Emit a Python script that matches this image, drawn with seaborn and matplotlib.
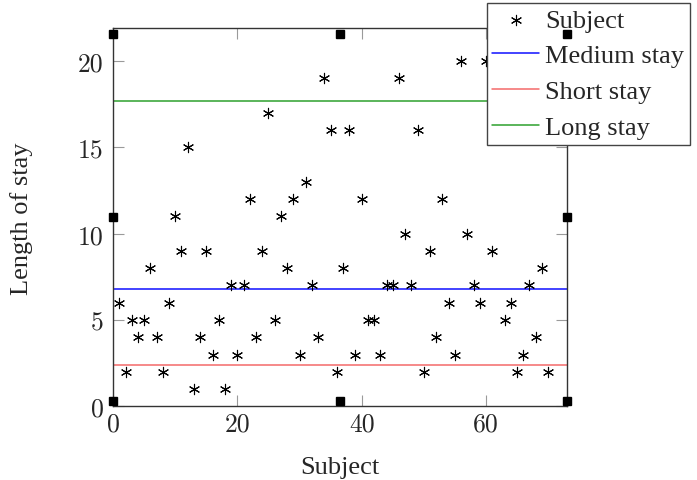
import numpy as np
import pandas as pd
import matplotlib
matplotlib.use('Agg')
import matplotlib.pyplot as plt
import seaborn as sns

# length of stay per subject (subject 62 is hidden behind the legend)
subjects = [1, 2, 3, 4, 5, 6, 7, 8, 9, 10,
            11, 12, 13, 14, 15, 16, 17, 18, 19, 20,
            21, 22, 23, 24, 25, 26, 27, 28, 29, 30,
            31, 32, 33, 34, 35, 36, 37, 38, 39, 40,
            41, 42, 43, 44, 45, 46, 47, 48, 49, 50,
            51, 52, 53, 54, 55, 56, 57, 58, 59, 60,
            61, 63, 64, 65, 66, 67, 68, 69, 70]
stay = [6, 2, 5, 4, 5, 8, 4, 2, 6, 11,
        9, 15, 1, 4, 9, 3, 5, 1, 7, 3,
        7, 12, 4, 9, 17, 5, 11, 8, 12, 3,
        13, 7, 4, 19, 16, 2, 8, 16, 3, 12,
        5, 5, 3, 7, 7, 19, 10, 7, 16, 2,
        9, 4, 12, 6, 3, 20, 10, 7, 6, 20,
        9, 5, 6, 2, 3, 7, 4, 8, 2]

thresholds = ['Medium stay', 'Short stay', 'Long stay']
threshold_values = [6.77, 2.4, 17.68]
threshold_colors = ['#1010ff', '#f46a6a', '#2ea02e']

# the little black squares around the plot frame
handle_x = [0, 0, 0, 36.5, 36.5, 73, 73, 73]
handle_y = [0.3, 10.95, 21.6, 0.3, 21.6, 0.3, 10.95, 21.6]

df = pd.DataFrame({'Subject': subjects, 'Length of stay': stay})

sns.set_style('ticks')
plt.rcParams['font.family'] = ['Liberation Serif', 'DejaVu Serif']

fig, ax = plt.subplots(figsize=(6.97, 4.81), dpi=100)
fig.subplots_adjust(left=0.1623, right=0.8131, bottom=0.1532, top=0.939)

sns.scatterplot(data=df, x='Subject', y='Length of stay', marker=(6, 2, 0),
                color='black', edgecolor='black', s=55, linewidth=0.8,
                label='Subject', ax=ax, zorder=3)

for name, val, col in zip(thresholds, threshold_values, threshold_colors):
    ax.axhline(val, color=col, lw=1.1, label=name, zorder=2)

ax.plot(handle_x, handle_y, 's', color='black', ms=6, clip_on=False, zorder=10)

ax.set_xlim(0, 73)
ax.set_ylim(0, 21.9)
ax.set_xticks([0, 20, 40, 60])
ax.set_yticks([0, 5, 10, 15, 20])

for sp in ax.spines.values():
    sp.set_visible(True)
    sp.set_color('#333333')
    sp.set_linewidth(1.0)

ax.tick_params(direction='in', top=True, right=True, length=8, width=0.8,
               color='#9a9a9a')
ax.tick_params(axis='x', pad=4)
ax.tick_params(axis='y', pad=7)
for lab in ax.get_xticklabels() + ax.get_yticklabels():
    lab.set_fontfamily('cmr10')
    lab.set_fontsize(18.5)

ax.set_xlabel('Subject', fontsize=19, labelpad=15)
ax.set_ylabel('Length of stay', fontsize=19, labelpad=32)

leg = ax.legend(loc='upper left', bbox_to_anchor=(0.699, 0.992),
                bbox_transform=fig.transFigure, fontsize=19,
                frameon=True, fancybox=False, framealpha=1,
                edgecolor='#444444', borderpad=0.2, labelspacing=0.47,
                handlelength=1.75, handletextpad=0.25, borderaxespad=0)
leg.get_frame().set_linewidth(1.0)
leg.set_zorder(5)

fig.savefig('out.png', dpi=100)
